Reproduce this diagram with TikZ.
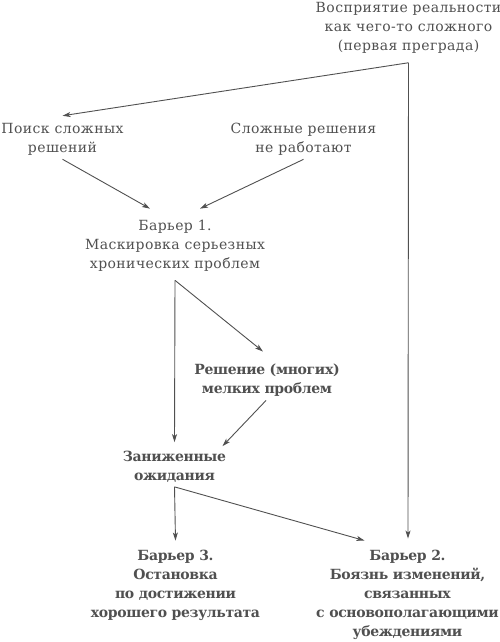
\documentclass[tikz,border=0pt]{standalone}
\usepackage{fontspec}
\setmainfont{DejaVu Serif}[LetterSpace=3, BoldFeatures={LetterSpace=-2.5}]
\usepackage{tikz}
\usetikzlibrary{arrows.meta}
\definecolor{inkgray}{HTML}{505050}
\tikzset{
  txtnode/.style = {align=center, inner sep=4pt, text=inkgray, font=\fontsize{14}{19}\selectfont},
  boldnode/.style = {txtnode, font=\fontsize{14}{19}\selectfont\bfseries},
  conn/.style = {->, draw=inkgray, line width=0.9pt},
}
\begin{document}
\begin{tikzpicture}[x=1pt, y=-1pt, >={Stealth[length=8pt, width=5pt, inset=2pt]}]
\useasboundingbox (0,0) rectangle (500,642);
% upper part
\node [txtnode] (real) at (408.5,28) {Восприятие реальности\\как чего-то сложного\\(первая преграда)};
\node [txtnode] (search) at (62.5,139) {Поиск сложных\\решений};
\node [txtnode] (fail) at (303.5,139) {Сложные решения\\не работают};
\node [txtnode] (bar1) at (175,245.5) {Барьер 1.\\Маскировка серьезных\\хронических проблем};
% lower part
\node [boldnode] (small) at (267,380) {Решение (многих)\\мелких проблем};
\node [boldnode] (low) at (174.5,467) {Заниженные\\ожидания};
\node [boldnode] (bar3) at (175.5,585) {Барьер 3.\\Остановка\\по достижении\\хорошего результата};
\node [boldnode] (bar2) at (407.5,594.5) {Барьер 2.\\Боязнь изменений,\\связанных\\с основополагающими\\убеждениями};
\coordinate (fork) at ([yshift=-5pt]real.south);
\draw[conn] (fork) -- ([yshift=3pt]search.north);
\draw[conn] (fork) -- ([xshift=0.5pt, yshift=7pt]bar2.north);
\draw[conn] (search.south) -- ([xshift=-25pt, yshift=7pt]bar1.north);
\draw[conn] (fail.south) -- ([xshift=25pt, yshift=7pt]bar1.north);
\draw[conn] ([yshift=-5pt]bar1.south) -- ([yshift=5pt]low.north);
\draw[conn] ([yshift=-5pt]bar1.south) -- ([xshift=-4pt, yshift=8pt]small.north);
\draw[conn] ([xshift=-1pt]small.south) -- ([xshift=48pt, yshift=1pt]low.north);
\draw[conn] (low.south) -- ([yshift=5pt]bar3.north);
\draw[conn] (low.south) -- ([xshift=-43pt, yshift=5pt]bar2.north);
\end{tikzpicture}
\end{document}
